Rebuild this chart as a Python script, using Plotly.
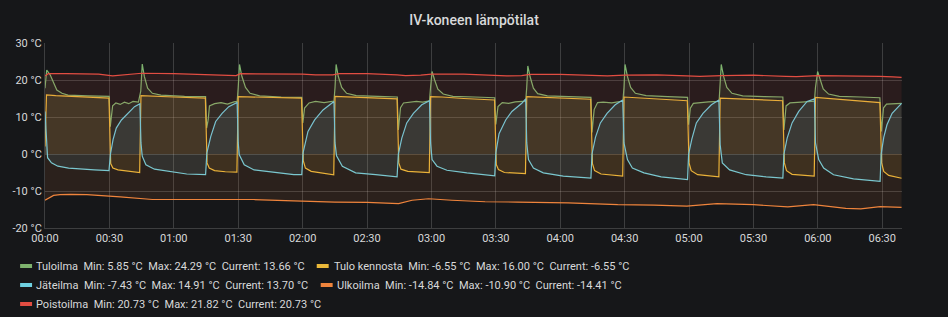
import plotly.graph_objects as go

# ---------------- data (minutes since 00:00, °C) ----------------
tuloilma_t = [0.0, 0.8, 2.4, 4.0, 5.5, 7.9, 10.7, 20, 29.9,
              30.4, 31.5, 33, 35, 37, 39, 41, 43.5,
              44.6, 45.3, 46.3, 47.8, 50, 54, 65, 74.8,
              75.3, 76, 76.6, 79, 82, 85, 88, 89.5,
              90.0, 90.6, 91.7, 93.4, 95.5, 100, 110, 119.6,
              120.1, 120.9, 123, 126, 130, 134.6,
              135.1, 135.6, 136.6, 138.2, 140.5, 145, 155, 164.1,
              164.6, 165.6, 167, 170, 173, 176, 179.1,
              179.6, 180.3, 181.5, 183, 185.5, 190, 200, 209.5,
              210.0, 211, 213, 216, 219, 223.9,
              224.4, 224.9, 226, 227.5, 229.5, 234, 244, 254.3,
              254.8, 255.8, 257.4, 260, 264, 269.2,
              269.7, 270.2, 271.3, 272.8, 275, 280, 290, 299.3,
              299.8, 300.6, 302, 305, 309, 314.0,
              314.5, 315.0, 316.1, 317.6, 320, 325, 335, 343.7,
              344.2, 345.2, 347, 350, 354, 358.4,
              358.9, 359.9, 361, 362.5, 365, 370, 380, 388.9,
              389.6, 390.6, 392, 395, 399]
tuloilma_v = [17.8, 22.7, 21.4, 19.1, 17.3, 16.4, 15.9, 15.7, 15.6,
              7.4, 13.0, 13.8, 13.4, 14.0, 13.6, 14.2, 14.0,
              17.0, 24.29, 20.9, 17.8, 16.4, 15.9, 15.6, 15.5,
              7.0, 9.2, 13.0, 13.6, 13.9, 13.5, 14.1, 14.2,
              18.0, 24.2, 21.0, 18.0, 16.4, 15.7, 15.4, 15.3,
              8.4, 12.4, 13.8, 14.2, 13.9, 14.3,
              18.0, 24.2, 21.0, 18.0, 16.4, 15.8, 15.6, 15.4,
              6.5, 12.5, 13.8, 13.9, 14.2, 14.0, 14.4,
              18.0, 22.3, 20.0, 17.5, 16.2, 15.6, 15.4, 15.2,
              8.0, 12.8, 13.9, 13.7, 14.1, 14.3,
              18.0, 23.8, 20.8, 17.8, 16.3, 15.7, 15.5, 15.3,
              5.85, 12.0, 13.9, 14.0, 13.8, 14.3,
              18.0, 24.2, 21.0, 18.0, 16.4, 15.8, 15.5, 15.3,
              7.9, 12.4, 13.7, 13.9, 14.1, 14.2,
              18.0, 24.2, 21.0, 18.0, 16.4, 15.7, 15.5, 15.4,
              6.5, 13.0, 13.8, 14.0, 14.1, 14.3,
              18.0, 22.3, 20.0, 17.6, 16.2, 15.6, 15.4, 15.2,
              6.1, 12.5, 13.5, 13.6, 13.66]

kennosta_t = [0.0, 0.7, 5, 15, 29.8, 30.6, 31.6, 34, 38, 44.1,
              44.7, 50, 60, 74.7, 75.5, 76.5, 79, 84, 89.4,
              90.0, 95, 105, 119.5, 120.3, 121.3, 124, 130, 134.5,
              135.1, 140, 150, 164.0, 164.8, 165.8, 169, 175, 179.0,
              179.6, 185, 195, 209.4, 210.2, 211.2, 214, 220, 223.8,
              224.4, 230, 240, 254.2, 255.0, 256.0, 259, 265, 269.1,
              269.7, 275, 285, 299.2, 300.0, 301.0, 304, 310, 313.9,
              314.5, 320, 330, 343.6, 344.4, 345.4, 348, 354, 358.3,
              358.9, 365, 375, 388.9, 389.7, 390.7, 393, 397, 399]
kennosta_v = [2.0, 16.0, 15.8, 15.5, 15.1, -2.6, -3.8, -4.3, -4.6, -5.0,
              15.8, 15.6, 15.4, 15.1, -2.4, -3.8, -4.5, -4.8, -4.9,
              15.5, 15.4, 15.3, 15.1, -1.8, -3.8, -4.7, -5.3, -5.6,
              15.6, 15.5, 15.2, 14.9, -2.4, -4.1, -4.7, -4.9, -5.0,
              15.5, 15.4, 15.0, 14.6, -2.8, -4.2, -5.0, -5.2, -5.3,
              15.5, 15.4, 15.1, 14.8, -2.6, -4.5, -5.4, -5.8, -6.0,
              15.4, 15.2, 14.8, 14.4, -2.4, -4.5, -5.6, -6.0, -6.2,
              15.1, 15.0, 14.8, 14.4, -2.4, -4.5, -5.5, -5.9, -6.0,
              15.3, 15.0, 14.5, 13.9, -2.4, -4.7, -5.8, -6.4, -6.55]

jateilma_t = [0.0, 0.6, 1.2, 3, 6, 11, 17, 23, 29.8,
              30.5, 31.7, 33.2, 35.6, 38.7, 41.7, 44.2,
              44.7, 45.3, 47, 51, 58, 66, 74.8,
              75.4, 77.2, 79.5, 82.5, 85.6, 89.5,
              90.0, 90.5, 92.8, 97.4, 105, 115.9, 119.6,
              120.2, 122.5, 125.6, 129.5, 134.6,
              135.1, 135.8, 138.5, 144.7, 154, 164.0,
              164.6, 166.2, 168.5, 171.6, 175.5, 179.1,
              179.6, 180.3, 182.6, 187.2, 196.5, 207.3, 209.5,
              210.0, 211.5, 214.6, 217.5, 222.1, 223.9,
              224.4, 225.2, 227.5, 232.1, 241.4, 254.3,
              254.8, 256.4, 258.7, 261.8, 265.6, 269.1,
              269.7, 271.3, 273.6, 279, 287, 297, 299.3,
              299.8, 301.3, 303.4, 306.5, 310.4, 313.9,
              314.5, 315.5, 318.9, 326.6, 335.9, 343.7,
              344.2, 345.7, 348.0, 351.1, 355.0, 358.4,
              358.9, 360.4, 362.7, 367.3, 376.6, 387.4, 389.0,
              389.5, 390.7, 392.2, 394.6, 399]
jateilma_v = [11.5, 3.0, -1.0, -2.4, -3.3, -3.8, -4.1, -4.3, -4.5,
              0.0, 3.9, 7.0, 9.2, 11.0, 12.8, 13.6,
              3.0, -0.6, -2.9, -4.1, -4.7, -5.4, -5.6,
              0.3, 4.7, 8.8, 11.0, 12.8, 13.9,
              3.0, -0.2, -2.9, -4.3, -4.9, -5.6, -5.6,
              0.3, 6.1, 9.2, 11.9, 14.2,
              3.0, -0.5, -3.3, -5.1, -5.6, -6.2,
              0.0, 4.3, 8.4, 11.0, 13.3, 14.4,
              3.0, -1.5, -3.3, -4.4, -5.1, -5.8, -5.9,
              0.3, 5.5, 9.2, 11.5, 13.7, 14.91,
              3.0, -1.5, -3.8, -5.1, -6.0, -6.5,
              0.0, 4.5, 8.4, 11.0, 13.3, 14.6,
              3.0, -1.5, -3.8, -5.1, -6.2, -6.7, -6.9,
              0.0, 4.0, 8.4, 11.0, 13.3, 14.6,
              2.5, -2.4, -4.3, -5.6, -6.2, -6.5,
              0.0, 4.3, 8.4, 11.5, 14.2, 14.9,
              3.0, -1.5, -3.8, -5.6, -6.7, -7.43, -7.4,
              0.0, 4.5, 7.9, 11.0, 13.7]

ulkoilma_t = [0, 4, 7, 12, 19.5, 27, 35, 50, 66, 81, 97, 112, 128, 135, 150,
              164.7, 171, 178.7, 189.5, 205, 220, 243.6, 266.8, 283.6, 299,
              313, 330, 346, 358, 369, 373, 380, 389, 399]
ulkoilma_v = [-12.5, -11.2, -11.0, -10.9, -11.0, -11.2, -11.6, -12.3, -12.3, -12.2,
              -12.3, -12.6, -12.9, -13.0, -13.1, -13.4, -12.5, -12.1, -12.5, -12.9,
              -13.0, -13.2, -13.7, -13.8, -14.1, -13.4, -13.7, -14.3, -13.7, -14.5,
              -14.7, -14.84, -14.2, -14.41]

poisto_t = [0, 1.5, 10, 25, 31.5, 36, 42, 45, 60, 75, 82, 89, 91, 105, 120, 126,
            134, 137, 150, 164, 168, 175, 180, 195, 210, 215, 222, 226, 240, 255,
            262, 270, 285, 299, 305, 315, 330, 345, 350, 360, 375, 389, 395, 399]
poisto_v = [21.1, 21.7, 21.7, 21.6, 21.1, 21.3, 21.5, 21.82, 21.7, 21.5, 21.3, 21.2,
            21.7, 21.7, 21.6, 21.4, 21.4, 21.7, 21.7, 21.4, 21.2, 21.3, 21.6, 21.6,
            21.3, 21.1, 21.2, 21.5, 21.5, 21.3, 21.1, 21.3, 21.4, 21.1, 21.0, 21.2,
            21.3, 21.0, 20.9, 21.2, 21.2, 21.0, 20.85, 20.73]

series_names = ["Tuloilma", "Tulo kennosta", "Jäteilma", "Ulkoilma", "Poistoilma"]
series_min = ["5.85", "-6.55", "-7.43", "-14.84", "20.73"]
series_max = ["24.29", "16.00", "14.91", "-10.90", "21.82"]
series_cur = ["13.66", "-6.55", "13.70", "-14.41", "20.73"]

x_tick_vals = [0, 30, 60, 90, 120, 150, 180, 210, 240, 270, 300, 330, 360, 390]
x_tick_text = ["00:00", "00:30", "01:00", "01:30", "02:00", "02:30", "03:00",
               "03:30", "04:00", "04:30", "05:00", "05:30", "06:00", "06:30"]
y_tick_vals = [-20, -10, 0, 10, 20, 30]
y_tick_text = ["-20 °C", "-10 °C", "0 °C", "10 °C", "20 °C", "30 °C"]

title_text = "IV-koneen lämpötilat"

# ---------------- styling ----------------
colors = ["#7EB26D", "#EAB839", "#6ED0E0", "#EF843C", "#E24D42"]
BG = "#161719"
TXT = "#d8d9da"
GRID = "rgba(255,255,255,0.17)"
FONT = "Roboto, 'Open Sans', sans-serif"

W, H = 948, 317
ML, MR, MT, MB = 41, 46, 43, 89
PW, PH = W - ML - MR, H - MT - MB


def rgba(hexc, a):
    h = hexc.lstrip("#")
    return "rgba(%d,%d,%d,%.2f)" % (int(h[0:2], 16), int(h[2:4], 16), int(h[4:6], 16), a)


def px(x):
    return (x - ML) / PW


def py(y):
    return (H - MB - y) / PH


fig = go.Figure()
all_t = [tuloilma_t, kennosta_t, jateilma_t, ulkoilma_t, poisto_t]
all_v = [tuloilma_v, kennosta_v, jateilma_v, ulkoilma_v, poisto_v]
for name, t, v, c in zip(series_names, all_t, all_v, colors):
    fig.add_trace(go.Scatter(
        x=t, y=v, name=name, mode="lines",
        line=dict(color=c, width=1.2),
        fill="tozeroy", fillcolor=rgba(c, 0.10),
        showlegend=False, hoverinfo="skip"))

# legend (Grafana-style table under the chart)
legend_pos = [(16, 31, 266), (314, 330, 266), (16, 31, 285), (318, 333, 285), (16, 31, 304)]
for i, (dx, tx, ty) in enumerate(legend_pos):
    fig.add_shape(type="line", xref="paper", yref="paper",
                  x0=px(dx), x1=px(dx + 12), y0=py(ty), y1=py(ty),
                  line=dict(color=colors[i], width=4))
    sp = "\u00a0\u00a0"
    txt = (series_names[i] + sp + "Min: " + series_min[i] + " °C" + sp +
           "Max: " + series_max[i] + " °C" + sp + "Current: " + series_cur[i] + " °C")
    fig.add_annotation(xref="paper", yref="paper", x=px(tx), y=py(ty),
                       xanchor="left", yanchor="middle", showarrow=False,
                       text=txt, font=dict(family=FONT, size=11, color=TXT),
                       borderpad=0)

fig.update_layout(
    width=W, height=H,
    margin=dict(l=ML, r=MR, t=MT, b=MB),
    paper_bgcolor=BG, plot_bgcolor=BG,
    font=dict(family=FONT, size=11, color=TXT),
    title=dict(text=title_text, x=0.5, xref="container", xanchor="center",
               y=1 - 20 / H, yref="container", yanchor="middle",
               font=dict(family=FONT, size=14, color=TXT, weight=500)),
    showlegend=False,
)
fig.update_xaxes(range=[0, 399.2], tickvals=x_tick_vals, ticktext=x_tick_text,
                 showgrid=True, gridcolor=GRID, gridwidth=1, zeroline=False,
                 showline=True, linecolor=GRID, linewidth=1, ticks="",
                 tickfont=dict(family=FONT, size=11, color=TXT), fixedrange=True)
fig.update_yaxes(range=[-20, 30], tickvals=y_tick_vals, ticktext=y_tick_text,
                 showgrid=True, gridcolor=GRID, gridwidth=1, zeroline=False,
                 showline=True, linecolor=GRID, linewidth=1, ticks="",
                 tickfont=dict(family=FONT, size=11, color=TXT), fixedrange=True)

fig.write_html("out.html", config={"displayModeBar": False})
